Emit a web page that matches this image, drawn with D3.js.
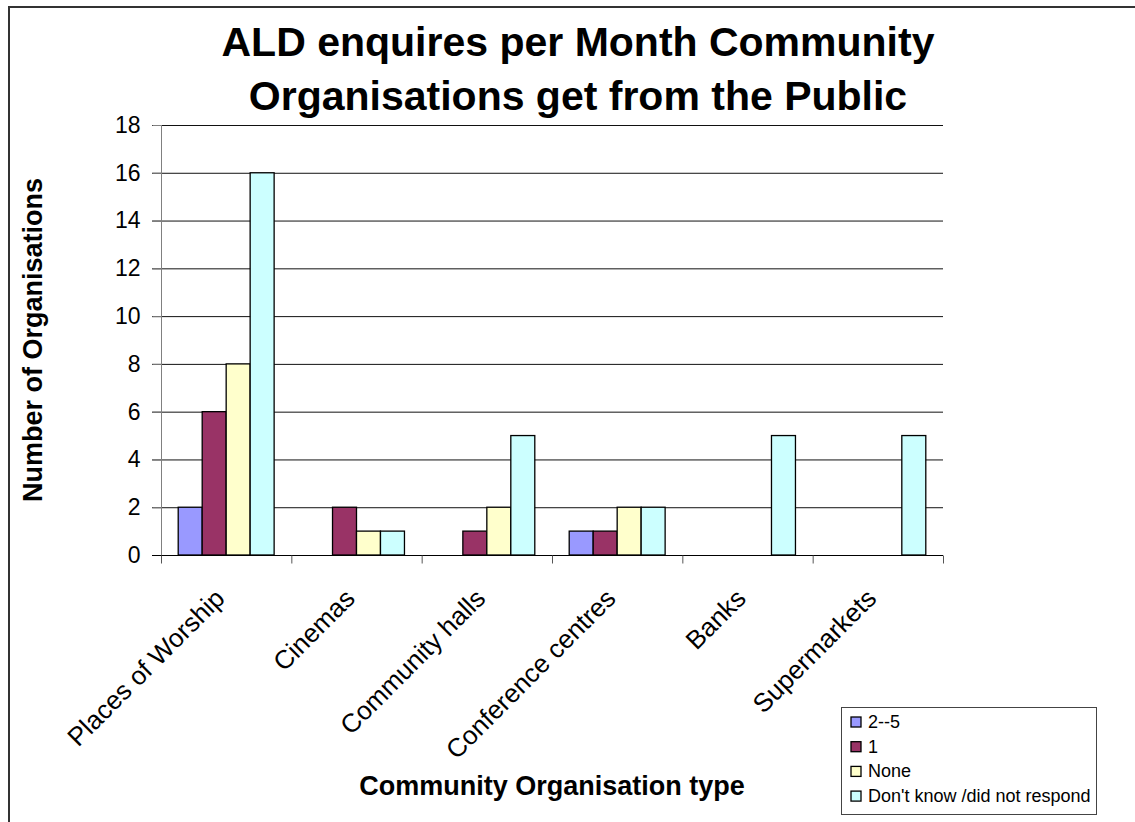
<!DOCTYPE html>
<html>
<head>
<meta charset="utf-8">
<script src="https://cdn.jsdelivr.net/npm/d3@7"></script>
<style>
  html, body { margin: 0; padding: 0; background: #fff; }
  svg { display: block; font-family: Arial, "Liberation Sans", sans-serif; }
</style>
</head>
<body>
<svg id="chart" width="1135" height="822"></svg>
<script>
const categories = ["Places of Worship", "Cinemas", "Community halls", "Conference centres", "Banks", "Supermarkets"];
const seriesNames = ["2--5", "1", "None", "Don't know /did not respond"];
const seriesColors = ["#9999FF", "#993366", "#FFFFCC", "#CCFFFF"];
const values_2to5 = [2, 0, 0, 1, 0, 0];
const values_1 = [6, 2, 1, 1, 0, 0];
const values_none = [8, 1, 2, 2, 0, 0];
const values_dontKnow = [16, 1, 5, 2, 5, 5];
const yTicks = [0, 2, 4, 6, 8, 10, 12, 14, 16, 18];
const titleLines = ["ALD enquires per Month Community", "Organisations get from the Public"];
const yTitle = "Number of Organisations";
const xTitle = "Community Organisation type";

const seriesValues = [values_2to5, values_1, values_none, values_dontKnow];

const svg = d3.select("#chart");

// outer chart border
svg.append("path")
  .attr("d", "M9,822 L9,7 L1135,7")
  .attr("fill", "none").attr("stroke", "#333").attr("stroke-width", 2);

const plot = { left: 161, right: 943, top: 125, bottom: 555 };

const x0 = d3.scaleBand().domain(categories).range([plot.left, plot.right]).padding(0);
const groupPad = x0.bandwidth() * 0.132;
const x1 = d3.scaleBand().domain(d3.range(seriesNames.length))
  .range([groupPad, x0.bandwidth() - groupPad]).padding(0);
const y = d3.scaleLinear().domain([0, 18]).range([plot.bottom, plot.top]);

// gridlines
svg.append("g").selectAll("line").data(yTicks.filter(d => d > 0)).join("line")
  .attr("x1", plot.left - 9).attr("x2", plot.right)
  .attr("y1", d => y(d) + 0.5).attr("y2", d => y(d) + 0.5)
  .attr("stroke", "#111").attr("stroke-width", 1);

// y axis
const yAxis = d3.axisLeft(y).tickValues(yTicks).tickSize(9).tickPadding(12);
const gy = svg.append("g").attr("transform", `translate(${plot.left + 0.5},0)`).call(yAxis);
gy.select(".domain").attr("stroke", "#808080").attr("d", `M0,${plot.top}V${plot.bottom + 8}`);
gy.selectAll(".tick line").attr("stroke", "#808080");
gy.selectAll(".tick text").attr("font-size", 23).attr("fill", "#000")
  .attr("font-family", "Arial, 'Liberation Sans', sans-serif");

// bars
const groups = svg.append("g").selectAll("g").data(categories).join("g")
  .attr("transform", d => `translate(${x0(d)},0)`);
groups.selectAll("rect")
  .data((c, i) => seriesValues.map((vals, s) => ({ s, v: vals[i] })).filter(d => d.v > 0))
  .join("rect")
  .attr("x", d => x1(d.s))
  .attr("width", x1.bandwidth())
  .attr("y", d => y(d.v))
  .attr("height", d => y(0) - y(d.v))
  .attr("fill", d => seriesColors[d.s])
  .attr("stroke", "#000").attr("stroke-width", 1.3);

// x axis
const xAxis = d3.axisBottom(d3.scaleLinear().domain([0, categories.length]).range([plot.left, plot.right]))
  .tickValues(d3.range(categories.length + 1)).tickSize(8).tickFormat("");
const gx = svg.append("g").attr("transform", `translate(0,${plot.bottom + 0.5})`).call(xAxis);
gx.select(".domain").attr("stroke", "#000").attr("d", `M${plot.left - 9},0H${plot.right}`);
gx.selectAll(".tick line").attr("stroke", "#555");

// x category labels
svg.append("g").selectAll("text").data(categories).join("text")
  .attr("transform", d => `translate(${x0(d) + x0.bandwidth() / 2},${plot.bottom + 45}) rotate(-45)`)
  .attr("text-anchor", "end")
  .attr("font-size", 26)
  .text(d => d);

// title
svg.append("g").selectAll("text").data(titleLines).join("text")
  .attr("x", 578).attr("y", (d, i) => 56 + i * 54)
  .attr("text-anchor", "middle").attr("font-size", 41).attr("font-weight", "bold")
  .text(d => d);

// axis titles
svg.append("text")
  .attr("transform", `translate(42,${(plot.top + plot.bottom) / 2}) rotate(-90)`)
  .attr("text-anchor", "middle").attr("font-size", 27).attr("font-weight", "bold")
  .text(yTitle);
svg.append("text")
  .attr("x", (plot.left + plot.right) / 2).attr("y", 795)
  .attr("text-anchor", "middle").attr("font-size", 27).attr("font-weight", "bold")
  .text(xTitle);

// legend
const legend = svg.append("g");
legend.append("rect").attr("x", 841.5).attr("y", 707.5).attr("width", 255).attr("height", 107)
  .attr("fill", "#fff").attr("stroke", "#444").attr("stroke-width", 1);
const items = legend.selectAll("g.item").data(seriesNames).join("g")
  .attr("class", "item")
  .attr("transform", (d, i) => `translate(0,${717 + i * 24.7})`);
items.append("rect").attr("x", 851).attr("y", 0).attr("width", 10).attr("height", 10)
  .attr("fill", (d, i) => seriesColors[i]).attr("stroke", "#000").attr("stroke-width", 1.3);
items.append("text").attr("x", 868).attr("y", 11).attr("font-size", 18).text(d => d);
</script>
</body>
</html>
